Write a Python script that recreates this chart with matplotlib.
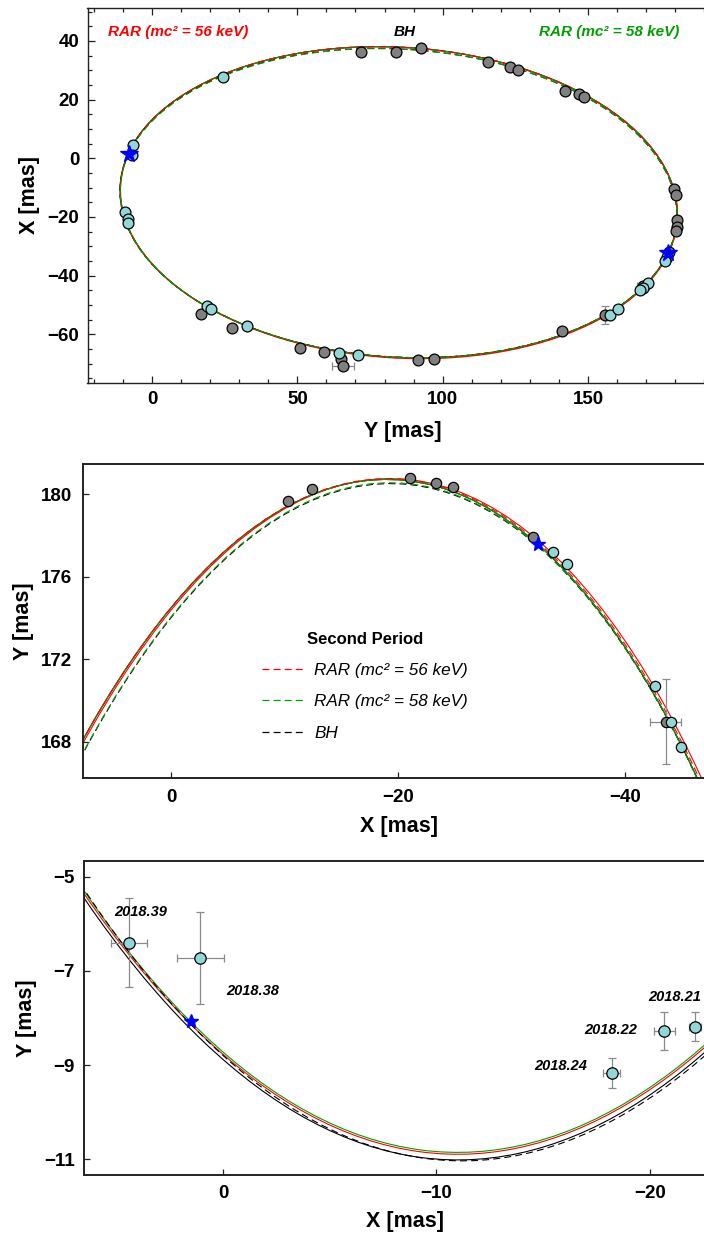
import numpy as np
import matplotlib
matplotlib.use("Agg")
import matplotlib.pyplot as plt
from matplotlib.patches import Ellipse
from matplotlib.lines import Line2D

plt.rcParams['font.family'] = ['Liberation Sans', 'DejaVu Sans']
plt.rcParams['lines.scale_dashes'] = False
plt.rcParams['axes.unicode_minus'] = True

# ---------------- data (Y, X in mas) ----------------
gray_Y = [17.0, 27.4, 51.0, 59.2, 65.0, 65.7, 91.4, 97.0, 141.0, 155.8,
          179.69, 180.27, 180.78, 180.56, 180.37, 177.91, 168.96,
          71.8, 84.1, 92.5, 115.6, 123.0, 126.0, 142.2, 147.0, 148.7]
gray_X = [-53.0, -57.9, -64.7, -65.9, -68.5, -70.9, -68.9, -68.5, -58.9, -53.4,
          -10.33, -12.39, -21.01, -23.31, -24.81, -31.86, -43.57,
          36.3, 36.3, 37.4, 32.7, 31.0, 30.0, 23.0, 21.8, 20.9]
gray_Yerr = [0, 0, 0, 0, 0, 3.7, 0, 0, 0, 1.5,
             0, 0, 0, 0, 0, 0, 2.07,
             0, 0, 0, 0, 0, 0, 0, 0, 0]
gray_Xerr = [0, 0, 0, 0, 0, 0, 0, 0, 0, 3.2,
             0, 0, 0, 0, 0, 0, 1.38,
             0, 0, 0, 0, 0, 0, 0, 0, 0]

cyan_Y = [24.4, -6.40, -6.72, -9.17, -8.27, -8.18, 18.8, 20.3, 32.6, 64.4, 71.0,
          157.6, 160.4, 177.18, 176.62, 170.70, 168.96, 167.75]
cyan_X = [27.6, 4.39, 1.06, -18.2, -20.66, -22.11, -50.4, -51.5, -57.3, -66.3, -67.2,
          -53.4, -51.4, -33.68, -34.86, -42.64, -44.08, -44.95]
cyan_Yerr = [0, 0.95, 0.98, 0.32, 0.40, 0.31, 0, 0, 0, 0, 0,
             0, 0, 0, 0, 0, 0, 0]
cyan_Xerr = [0, 0.84, 1.10, 0.39, 0.49, 0.27, 0, 0, 0, 0, 0,
             0, 0, 0, 0, 0, 0, 0]
cyan_epoch = ['', '2018.39', '2018.38', '2018.24', '2018.22', '2018.21', '', '', '', '', '',
              '', '', '', '', '', '', '']

star_Y = [-8.06, 177.59]
star_X = [1.51, -32.33]

# orbit models: pericentre (Y, X), apocentre (Y, X), half width
model_labels = ['BH', 'RAR (mc\u00b2 = 56 keV)', 'RAR (mc\u00b2 = 58 keV)']
model_colors = ['black', '#ff0000', '#00a000']
p1_peri_Y = [-11.01, -10.89, -10.85]
p1_peri_X = [-11.0, -11.0, -11.0]
p1_apo_Y = [180.72, 180.76, 180.72]
p1_apo_X = [-19.0, -19.3, -19.0]
p1_halfw = [52.87, 53.0, 52.87]

p2_peri_Y = [-11.03, -10.95, -10.95]
p2_peri_X = [-11.2, -11.0, -11.3]
p2_apo_Y = [180.52, 180.76, 180.56]
p2_apo_X = [-19.32, -19.1, -19.3]
p2_halfw = [52.55, 52.95, 52.5]

W, H = 704, 1236
fig = plt.figure(figsize=(W / 100, H / 100), dpi=100)


def add_ax(l, t, r, b):
    return fig.add_axes([l / W, 1 - b / H, (r - l) / W, (b - t) / H])


def orbit_ellipse(py, px, ay, axx, s, swap, **kw):
    yc = (py + ay) / 2.0
    xc = (px + axx) / 2.0
    w = (ay - py) / 2.0
    k = (axx - px) / (ay - py)
    C = 1.0 / s ** 2
    B = -k * C
    D = C / w ** 2
    A = (D + B * B) / C
    vals, vecs = np.linalg.eigh(np.array([[A, B], [B, C]]))
    a = 1 / np.sqrt(vals[0])
    b = 1 / np.sqrt(vals[1])
    vu, vv = vecs[:, 0]
    if not swap:
        ang = np.degrees(np.arctan2(vv, vu))
        center = (yc, xc)
    else:
        ang = np.degrees(np.arctan2(vu, vv))
        center = (xc, yc)
    return Ellipse(center, 2 * a, 2 * b, angle=ang, fill=False, **kw)


def draw_orbits(ax, swap, which_p2):
    for i in range(3):
        ax.add_patch(orbit_ellipse(p1_peri_Y[i], p1_peri_X[i], p1_apo_Y[i], p1_apo_X[i],
                                   p1_halfw[i], swap, edgecolor=model_colors[i],
                                   linewidth=0.8, zorder=2))
    for i in which_p2:
        ax.add_patch(orbit_ellipse(p2_peri_Y[i], p2_peri_X[i], p2_apo_Y[i], p2_apo_X[i],
                                   p2_halfw[i], swap, edgecolor=model_colors[i],
                                   linewidth=0.8, linestyle=(0, (5, 3)), zorder=2))


def draw_points(ax, swap, ms, star_ms):
    gY, gX = np.array(gray_Y), np.array(gray_X)
    cY, cX = np.array(cyan_Y), np.array(cyan_X)
    for Yv, Xv, Ye, Xe, col in [(gY, gX, np.array(gray_Yerr), np.array(gray_Xerr), '#808080'),
                                (cY, cX, np.array(cyan_Yerr), np.array(cyan_Xerr), '#93d6d6')]:
        m = (Ye > 0) | (Xe > 0)
        if swap:
            xs, ys, xe, ye = Xv, Yv, Xe, Ye
        else:
            xs, ys, xe, ye = Yv, Xv, Ye, Xe
        ax.errorbar(xs[m], ys[m], xerr=np.where(xe[m] > 0, xe[m], np.nan),
                    yerr=np.where(ye[m] > 0, ye[m], np.nan), fmt='none',
                    ecolor='#8a8a8a', elinewidth=0.9, capsize=2.6, capthick=0.9, zorder=3)
        ax.plot(xs, ys, 'o', ms=ms, mfc=col, mec='black', mew=0.9, zorder=4, ls='none')
    sY, sX = np.array(star_Y), np.array(star_X)
    if swap:
        ax.plot(sX, sY, '*', ms=star_ms, color='#0000ff', mec='#0000ff', zorder=5)
    else:
        ax.plot(sY, sX, '*', ms=star_ms, color='#0000ff', mec='#0000ff', zorder=5)


def style(ax, spine_lw):
    for sp in ax.spines.values():
        sp.set_linewidth(spine_lw)
        sp.set_color('#222222')
    for lab in ax.get_xticklabels() + ax.get_yticklabels():
        lab.set_fontweight('bold')
        lab.set_fontsize(13.5)


LABEL_FS = 15.5

# ---------------- top panel ----------------
ax1 = add_ax(87.5, 8, 718.8, 383)
draw_orbits(ax1, False, [0, 1, 2])
draw_points(ax1, False, 7.8, 13)
ax1.set_xlim(-22.2, 195.0)
ax1.set_ylim(-76.6, 51.2)
ax1.set_xticks([0, 50, 100, 150])
ax1.set_xticks(np.arange(-20, 200, 10), minor=True)
ax1.set_yticks([-60, -40, -20, 0, 20, 40])
ax1.set_yticks(np.arange(-75, 55, 5), minor=True)
ax1.tick_params(which='both', direction='in', top=True, right=True, width=0.9, color='#222222')
ax1.tick_params(which='major', length=5, pad=6)
ax1.tick_params(which='minor', length=2.6)
style(ax1, 1.0)
ax1.set_xlabel('Y [mas]', fontsize=LABEL_FS, fontweight='bold', labelpad=9)
ax1.set_ylabel('X [mas]', fontsize=LABEL_FS, fontweight='bold', labelpad=5)
ax1.text(0.144, 0.936, model_labels[1], transform=ax1.transAxes, color=model_colors[1],
         fontsize=11, fontweight='bold', style='italic', ha='center', va='center')
ax1.text(0.503, 0.936, model_labels[0], transform=ax1.transAxes, color=model_colors[0],
         fontsize=11, fontweight='bold', style='italic', ha='center', va='center')
ax1.text(0.827, 0.936, model_labels[2], transform=ax1.transAxes, color=model_colors[2],
         fontsize=11, fontweight='bold', style='italic', ha='center', va='center')

# ---------------- middle panel ----------------
ax2 = add_ax(83, 464, 716, 778.3)
draw_orbits(ax2, True, [0, 1, 2])
draw_points(ax2, True, 7.4, 11)
ax2.set_xlim(7.75, -48.0)
ax2.set_ylim(166.22, 181.47)
ax2.set_xticks([0, -20, -40])
ax2.set_yticks([168, 172, 176, 180])
ax2.tick_params(direction='in', length=4.5, width=0.9, pad=8, color='#222222')
style(ax2, 1.4)
ax2.set_xlabel('X [mas]', fontsize=LABEL_FS, fontweight='bold', labelpad=7)
ax2.set_ylabel('Y [mas]', fontsize=LABEL_FS, fontweight='bold', labelpad=5)
handles = [Line2D([], [], color=model_colors[i], lw=0.9, ls=(0, (5, 3))) for i in [1, 2, 0]]
leg = ax2.legend(handles, [model_labels[i] for i in [1, 2, 0]], loc='upper left',
                 bbox_to_anchor=(262 / W, 1 - 632 / H), bbox_transform=fig.transFigure,
                 frameon=False, title='Second Period',
                 title_fontproperties={'weight': 'bold', 'size': 12},
                 prop={'style': 'italic', 'size': 12.3}, handlelength=2.5,
                 handletextpad=0.55, labelspacing=0.95, borderpad=0, borderaxespad=0)

# ---------------- bottom panel ----------------
ax3 = add_ax(84.4, 860.7, 724.7, 1175)
draw_orbits(ax3, True, [0])
draw_points(ax3, True, 8.2, 10)
ax3.set_xlim(6.49, -23.5)
ax3.set_ylim(-11.33, -4.66)
ax3.set_xticks([0, -10, -20])
ax3.set_yticks([-11, -9, -7, -5])
ax3.tick_params(direction='in', length=4.5, width=0.9, pad=7, color='#222222')
style(ax3, 1.4)
ax3.set_xlabel('X [mas]', fontsize=LABEL_FS, fontweight='bold', labelpad=7)
ax3.set_ylabel('Y [mas]', fontsize=LABEL_FS, fontweight='bold', labelpad=5)
label_offsets = {'2018.39': (11, 31), '2018.38': (52, -33), '2018.24': (-51, 7),
                 '2018.22': (-53, 1), '2018.21': (-20, 30)}
for Yv, Xv, ep in zip(cyan_Y, cyan_X, cyan_epoch):
    if ep:
        ax3.annotate(ep, (Xv, Yv), xytext=label_offsets[ep], textcoords='offset pixels',
                     ha='center', va='center', fontsize=10.5, fontweight='bold',
                     style='italic', annotation_clip=False)

fig.savefig('out.png', dpi=100)
